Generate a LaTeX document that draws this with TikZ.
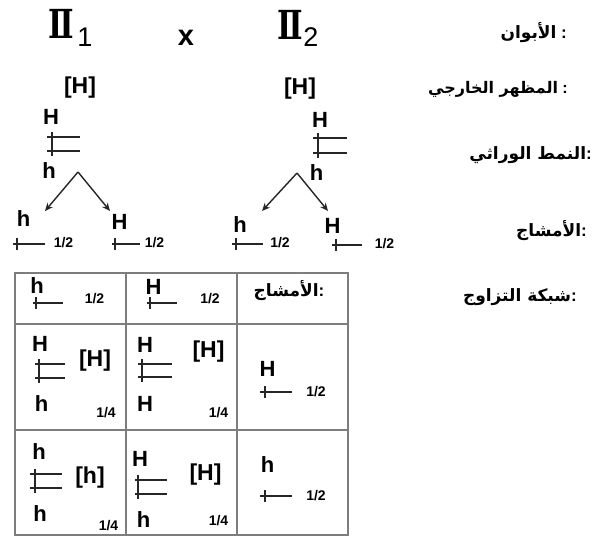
\documentclass[tikz,border=0pt]{standalone}
\usepackage{fontspec}
\setmainfont{Liberation Sans}
\newfontfamily\arabicfont[Script=Arabic]{DejaVu Sans}
\newfontfamily\romfont{DejaVu Serif}
\TeXXeTstate=1
\usetikzlibrary{arrows.meta}
\definecolor{gridgray}{RGB}{125,125,125}
\tikzset{
  al/.style={font=\bfseries\fontsize{22}{22}\selectfont, inner sep=0pt},
  ph/.style={font=\bfseries\fontsize{23}{23}\selectfont, inner sep=0pt},
  fr/.style={font=\bfseries\fontsize{14}{14}\selectfont, inner sep=0pt},
  ar/.style={font=\arabicfont\bfseries\fontsize{17}{17}\selectfont, inner sep=0pt, anchor=east},
  arc/.style={font=\arabicfont\bfseries\fontsize{17}{17}\selectfont, inner sep=0pt},
  rom/.style={font=\romfont\bfseries\fontsize{40}{40}\selectfont, inner sep=0pt},
  sub/.style={font=\fontsize{27}{27}\selectfont, inner sep=0pt},
  gl/.style={line width=1.7pt, draw=black!85},
  tk/.style={line width=1.2pt, draw=black!85},
  gridline/.style={draw=gridgray, line width=1.8pt},
  arr/.style={-{Stealth[length=8pt,width=7pt]}, line width=1.4pt, draw=black!85}
}
\newcommand\colonlat[1]{\hbox{\rmfamily\bfseries#1}}
\newcommand\sgl[4]{\draw[gl] (#1,#2)--(#3,#2); \draw[tk] (#4,#2-6)--(#4,#2+6);}
\newcommand\dgl[5]{\draw[gl] (#1,#2)--(#4,#2); \draw[gl] (#1,#3)--(#4,#3); \draw[tk] (#5,#2-5)--(#5,#3+5);}
\begin{document}
\begin{tikzpicture}[x=1pt,y=-1pt]
\fill[white] (0,0) rectangle (596,536);
\useasboundingbox (0,0) rectangle (596,536);

% parents
\node[rom] (p1) at (61,24) {\scalebox{0.76}[1]{Ⅱ}};
\node[sub] (s1) at (85,37) {1};
\node[font=\bfseries\fontsize{29}{29}\selectfont, inner sep=0pt] (cross) at (186,37.5) {x};
\node[rom] (p2) at (290,24.5) {\scalebox{0.76}[1]{Ⅱ}};
\node[sub] (s2) at (311,37.5) {2};

% phenotypes
\node[ph] (ph1) at (80,88) {[H]};
\node[ph] (ph2) at (300,88.5) {[H]};

% genotypes
\node[al] (g1H) at (51,116.5) {H};
\dgl{47}{137}{151}{80}{52}
\node[al] (g1h) at (49,171) {h};
\node[al] (g2H) at (320,120) {H};
\dgl{313}{138}{153}{347}{318}
\node[al] (g2h) at (316.5,172.5) {h};

% meiosis arrows
\coordinate (apL) at (78,172);
\coordinate (tL1) at (45,211);
\coordinate (tL2) at (110,211);
\coordinate (apR) at (297,173);
\coordinate (tR1) at (262,211);
\coordinate (tR2) at (328,211);
\draw[arr] (apL) -- (tL1);
\draw[arr] (apL) -- (tL2);
\draw[arr] (apR) -- (tR1);
\draw[arr] (apR) -- (tR2);

% gametes
\node[al] (m1) at (23.5,218.5) {h};
\sgl{13}{244}{45}{17}
\node[fr] (f1) at (63.5,243) {1/2};
\node[al] (m2) at (119.5,221.5) {H};
\sgl{112}{244}{140}{115}
\node[fr] (f2) at (154.5,243) {1/2};
\node[al] (m3) at (240,225) {h};
\sgl{232}{244}{263}{236}
\node[fr] (f3) at (280,243) {1/2};
\node[al] (m4) at (332.5,225.5) {H};
\sgl{332}{245}{362}{336}
\node[fr] (f4) at (384.5,244) {1/2};

% Arabic labels
\node[ar] (l1) at (567,33) {\beginR الأبوان\endR\colonlat{\ :}};
\node[ar, font=\arabicfont\bfseries\fontsize{16}{16}\selectfont] (l2) at (568,89) {\beginR المظهر الخارجي\endR\colonlat{\ :}};
\node[ar] (l3) at (592,155) {\beginR النمط الوراثي\endR\colonlat{:}};
\node[ar] (l4) at (587,231) {\beginR الأمشاج\endR\colonlat{:}};
\node[ar] (l5) at (577,297) {\beginR شبكة التزاوج\endR\colonlat{:}};

% table
\draw[gridline] (15,273) rectangle (348,535);
\draw[gridline] (126,273) -- (126,535);
\draw[gridline] (237,273) -- (237,535);
\draw[gridline] (15,324) -- (348,324);
\draw[gridline] (15,430) -- (348,430);

% row 1
\node[al] (t1a) at (37,286) {h};
\sgl{33}{303}{63}{36}
\node[fr] (t1af) at (94.5,299) {1/2};
\node[al] (t1b) at (153.5,286.5) {H};
\sgl{147}{303}{177}{150}
\node[fr] (t1bf) at (210,299) {1/2};
\node[arc] (t1c) at (289,291) {\beginR الأمشاج\endR\colonlat{:}};

% row 2
\node[al] (t2aH) at (40,344) {H};
\dgl{35}{364}{378}{65}{39}
\node[ph] (t2ap) at (95,361) {[H]};
\node[al] (t2ah) at (41.5,404) {h};
\node[fr] (t2af) at (106,412.5) {1/4};
\node[al] (t2bH) at (145,345) {H};
\dgl{138}{364}{377}{172}{142}
\node[ph] (t2bp) at (208.5,352) {[H]};
\node[al] (t2bH2) at (145,404) {H};
\node[fr] (t2bf) at (218.5,413) {1/4};
\node[al] (t2c) at (267.5,368.5) {H};
\sgl{260}{392}{292}{265}
\node[fr] (t2cf) at (316,392) {1/2};

% row 3
\node[al] (t3ah) at (39,451.5) {h};
\dgl{30}{474}{488}{62}{35}
\node[ph] (t3ap) at (90,477.5) {[h]};
\node[al] (t3ah2) at (40,513.5) {h};
\node[fr] (t3af) at (108.5,526) {1/4};
\node[al] (t3bH) at (140,458.5) {H};
\dgl{135}{480}{494}{167}{138}
\node[ph] (t3bp) at (205.5,475) {[H]};
\node[al] (t3bh) at (143.5,520) {h};
\node[fr] (t3bf) at (218.5,521) {1/4};
\node[al] (t3c) at (267.5,465) {h};
\sgl{260}{496}{292}{265}
\node[fr] (t3cf) at (316,496) {1/2};
\end{tikzpicture}
\end{document}
